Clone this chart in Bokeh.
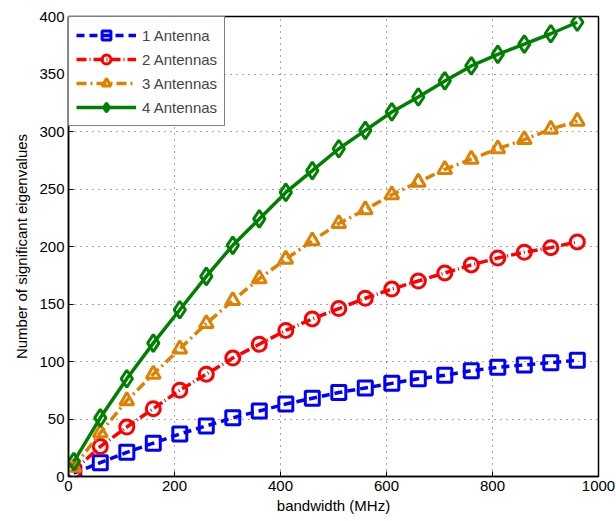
from bokeh.plotting import figure
from bokeh.models import Legend, LegendItem, FixedTicker
from bokeh.embed import file_html
from bokeh.resources import INLINE

bandwidth = [10, 60, 110, 160, 210, 260, 310, 360, 410, 460, 510, 560, 610, 660, 710, 760, 810, 860, 910, 960]
ant1 = [3, 12, 21, 29, 37, 44, 51, 57, 63, 68, 73, 77, 81, 85, 88, 92, 95, 97, 99, 101]
ant2 = [5, 26, 43, 59, 75, 89, 103, 115, 127, 137, 146, 155, 163, 170, 177, 184, 190, 195, 199, 204]
ant3 = [8, 38, 66, 89, 111, 133, 153, 172, 189, 205, 220, 232, 245, 256, 267, 276, 285, 293, 302, 309]
ant4 = [13, 51, 85, 116, 145, 174, 201, 224, 247, 266, 285, 301, 317, 330, 344, 357, 367, 376, 385, 395]
labels = ["1 Antenna", "2 Antennas", "3 Antennas", "4 Antennas"]
x_ticks = [0, 200, 400, 600, 800, 1000]
y_ticks = [0, 50, 100, 150, 200, 250, 300, 350, 400]

FONT = "Liberation Sans"

p = figure(width=616, height=521, output_backend="svg", toolbar_location=None,
           x_range=(0, 1000), y_range=(0, 400),
           min_border_left=68, min_border_right=18, min_border_top=16, min_border_bottom=45)

p.outline_line_color = "black"
p.outline_line_width = 1.5
p.xgrid.grid_line_color = "black"
p.ygrid.grid_line_color = "black"
p.xgrid.grid_line_dash = "1 5"
p.ygrid.grid_line_dash = "1 5"
p.xgrid.grid_line_alpha = 0.7
p.ygrid.grid_line_alpha = 0.7

xax = p.xaxis[0]
yax = p.yaxis[0]
xax.ticker = FixedTicker(ticks=x_ticks)
yax.ticker = FixedTicker(ticks=y_ticks)
for ax in (xax, yax):
    ax.major_tick_in = 5
    ax.major_tick_out = 0
    ax.minor_tick_line_color = None
    ax.axis_line_color = "black"
    ax.axis_line_width = 1.5
    ax.major_label_text_font = FONT
    ax.major_label_text_font_size = "15px"
    ax.major_label_text_color = "black"
    ax.axis_label_text_font = FONT
    ax.axis_label_text_font_size = "15px"
    ax.axis_label_text_font_style = "normal"
    ax.axis_label_text_color = "black"

xax.axis_label = "bandwidth (MHz)"
yax.axis_label = "Number of significant eigenvalues"
xax.axis_label_standoff = 3
yax.axis_label_standoff = 6
xax.major_label_standoff = 4
yax.major_label_standoff = 4

series = [
    (ant1, "#0000ff", "8 5", "square"),
    (ant2, "#ff0000", "10 3 1 3", "circle"),
    (ant3, "#e08000", "10 4 2 4", "triangle"),
    (ant4, "#008000", "solid", "diamond"),
]
items = []
for (vals, col, dash, mk), lab in zip(series, labels):
    r1 = p.line(bandwidth, vals, line_color=col, line_width=3.5, line_dash=dash)
    size = 14 if mk != "diamond" else 17
    r2 = p.scatter(bandwidth, vals, marker=mk, size=size, line_color=col, line_width=3,
                   fill_alpha=0)
    items.append(LegendItem(label=lab, renderers=[r1, r2]))

legend = Legend(items=items, location="top_left")
legend.border_line_color = "black"
legend.border_line_width = 1.5
legend.label_text_font = FONT
legend.label_text_font_size = "15px"
legend.glyph_width = 60
legend.glyph_height = 22
legend.spacing = 2
legend.padding = 7
legend.margin = 0
legend.label_standoff = 6
legend.background_fill_alpha = 1
p.add_layout(legend)

open("out.html", "w").write(file_html(p, INLINE))
